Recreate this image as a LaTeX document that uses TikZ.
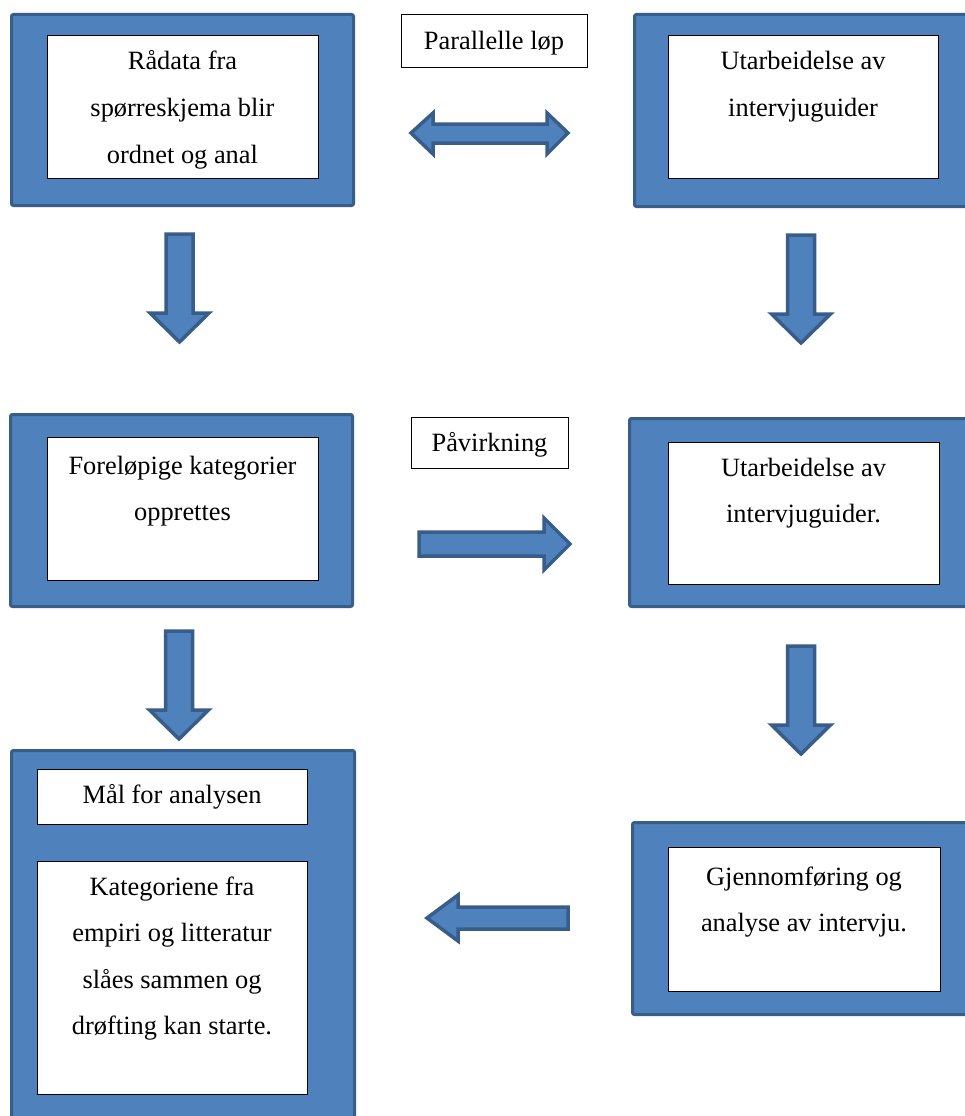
\documentclass[tikz,border=0pt]{standalone}
\usepackage{fontspec}
\setmainfont{Liberation Serif}
\definecolor{bfill}{RGB}{79,129,189}
\definecolor{bline}{RGB}{56,93,138}
\tikzset{
  outerbox/.style={draw=bline, fill=bfill, line width=3pt, rounded corners=2pt, anchor=north west, inner sep=0pt},
  innerbox/.style={draw=black, fill=white, line width=1pt, anchor=north west, inner sep=0pt},
  labelbox/.style={draw=black, fill=white, line width=0.9pt, anchor=north west, inner sep=0pt},
  blockarrow/.style={draw=bline, fill=bfill, line width=3.5pt, line join=miter},
  txt/.style={anchor=base, inner sep=0pt, font=\fontsize{26.4}{46.5}\selectfont}
}
\newcommand{\ml}[1]{\parbox[t]{320pt}{\centering #1}}
\begin{document}
\begin{tikzpicture}[x=1pt,y=-1pt]
\clip (0,0) rectangle (965,1116);
\fill[white] (0,0) rectangle (965,1116);
% boxes
\node[outerbox, minimum width=342pt, minimum height=191pt] (o1) at (10,13) {};
\node[innerbox, minimum width=271pt, minimum height=143pt] (i1) at (47,35) {};
\node[outerbox, minimum width=345pt, minimum height=192pt] (o2) at (633,13) {};
\node[innerbox, minimum width=270pt, minimum height=143pt] (i2) at (668,35) {};
\node[labelbox, minimum width=186pt, minimum height=53pt] (l1) at (401,14) {};
\node[outerbox, minimum width=342pt, minimum height=192pt] (o3) at (9,413) {};
\node[innerbox, minimum width=271pt, minimum height=143pt] (i3) at (47,437) {};
\node[labelbox, minimum width=157pt, minimum height=51pt] (l2) at (411,417) {};
\node[outerbox, minimum width=350pt, minimum height=188pt] (o4) at (628,417) {};
\node[innerbox, minimum width=271pt, minimum height=142pt] (i4) at (668,442) {};
\node[outerbox, minimum width=343pt, minimum height=420pt] (o5) at (10,749) {};
\node[innerbox, minimum width=270pt, minimum height=55pt] (i5a) at (37,769) {};
\node[innerbox, minimum width=270pt, minimum height=233pt] (i5b) at (37,861) {};
\node[outerbox, minimum width=345pt, minimum height=192pt] (o6) at (631,821) {};
\node[innerbox, minimum width=272pt, minimum height=144pt] (i6) at (668,847) {};
% texts
\node[txt] (t1) at (182.5,70) {\ml{Rådata fra\\spørreskjema blir\\ordnet og anal}};
\node[txt] (t2) at (803,70) {\ml{Utarbeidelse av\\intervjuguider}};
\node[txt] (tl1) at (494,50) {Parallelle løp};
\node[txt] (t3) at (182.5,474) {\ml{Foreløpige kategorier\\opprettes}};
\node[txt] (tl2) at (489.5,451) {Påvirkning};
\node[txt] (t4) at (803.5,476) {\ml{Utarbeidelse av\\intervjuguider.}};
\node[txt] (t5a) at (172,803) {Mål for analysen};
\node[txt] (t5b) at (172,895) {\ml{Kategoriene fra\\empiri og litteratur\\slåes sammen og\\drøfting kan starte.}};
\node[txt] (t6) at (804,885) {\ml{Gjennomføring og\\analyse av intervju.}};
% block arrows
% double arrow
\draw[blockarrow] (411,133) -- (433,113) -- (433,124) -- (547,124) -- (547,113) -- (568,133)
  -- (547,154) -- (547,143) -- (433,143) -- (433,154) -- cycle;
% down arrows
\foreach \cx/\ty in {179.5/234, 801/235, 179/631, 801/646}{
  \draw[blockarrow] (\cx-13.5,\ty) -- (\cx+13.5,\ty) -- (\cx+13.5,\ty+79) -- (\cx+29.5,\ty+79)
    -- (\cx,\ty+108) -- (\cx-29.5,\ty+79) -- (\cx-13.5,\ty+79) -- cycle;
}
% right arrow
\draw[blockarrow] (419,532) -- (544,532) -- (544,518) -- (570,544) -- (544,570) -- (544,556) -- (419,556) -- cycle;
% left arrow
\draw[blockarrow] (568,907) -- (458,907) -- (458,895) -- (427,918) -- (458,941) -- (458,929) -- (568,929) -- cycle;
\end{tikzpicture}
\end{document}
